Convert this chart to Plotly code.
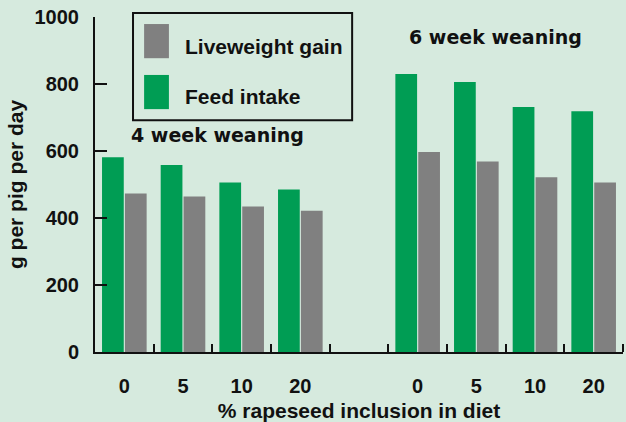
import plotly.graph_objects as go

# ---- data ----
inclusion_labels = ["0", "5", "10", "20"]
groups = ["4 week weaning", "6 week weaning"]
feed_4wk = [581, 558, 506, 485]
gain_4wk = [473, 464, 434, 422]
feed_6wk = [830, 806, 731, 719]
gain_6wk = [597, 569, 522, 506]
series_names = ["Liveweight gain", "Feed intake"]

# slot positions: group 1 in slots 0-3, empty slot 4, group 2 in slots 5-8
x1 = list(range(len(inclusion_labels)))
x2 = [len(inclusion_labels) + 1 + i for i in range(len(inclusion_labels))]
xs = x1 + x2
feed = feed_4wk + feed_6wk
gain = gain_4wk + gain_6wk
ticktext = inclusion_labels + inclusion_labels

BG = "rgb(214,234,222)"
GREEN = "#009d54"
GRAY = "#808080"
FONT = "Liberation Sans, Arial, sans-serif"

fig = go.Figure()
fig.add_trace(go.Bar(x=xs, y=feed, name=series_names[1], marker=dict(color=GREEN, line=dict(width=0)), showlegend=False))
fig.add_trace(go.Bar(x=xs, y=gain, name=series_names[0], marker=dict(color=GRAY, line=dict(width=0)), showlegend=False))

boundaries = [i + 0.5 for i in range(len(xs) + 1)]

fig.update_layout(
    width=626, height=422,
    paper_bgcolor=BG, plot_bgcolor=BG,
    margin=dict(l=95, r=3, t=17, b=70),
    barmode="group", bargap=0.22, bargroupgap=0.05,
    font=dict(family=FONT, size=20, color="#111111", weight="bold"),
    xaxis=dict(
        range=[-0.5, 8.5], tickmode="array", tickvals=xs, ticktext=ticktext,
        ticks="", showgrid=False, zeroline=False, showline=True, linecolor="#111111", linewidth=2,
        ticklabelstandoff=15,
        minor=dict(tickmode="array", tickvals=boundaries, ticks="inside", ticklen=8, tickwidth=2, tickcolor="#111111", showgrid=False),
        title=dict(text="% rapeseed inclusion in diet", standoff=7, font=dict(size=21)),
        automargin=False,
    ),
    yaxis=dict(
        range=[0, 1000], tickmode="array", tickvals=[0, 200, 400, 600, 800, 1000],
        ticks="inside", ticklen=12, tickwidth=2, tickcolor="#111111",
        showgrid=False, zeroline=False, showline=True, linecolor="#111111", linewidth=2,
        ticklabelstandoff=10,
        title=dict(text="g per pig per day", standoff=5, font=dict(size=21)),
        automargin=False,
    ),
)

# manual legend (big swatches)
fig.add_shape(type="rect", xref="paper", yref="paper", x0=0.072, x1=0.487, y0=0.692, y1=1.012,
              line=dict(color="#111111", width=2), fillcolor="rgba(0,0,0,0)")
fig.add_shape(type="rect", xref="paper", yref="paper", x0=0.093, x1=0.140, y0=0.877, y1=0.979,
              line=dict(width=0), fillcolor=GRAY)
fig.add_shape(type="rect", xref="paper", yref="paper", x0=0.093, x1=0.140, y0=0.725, y1=0.827,
              line=dict(width=0), fillcolor=GREEN)
fig.add_annotation(xref="paper", yref="paper", x=0.167, y=0.913, text=series_names[0],
                   showarrow=False, xanchor="left", yanchor="middle", font=dict(size=21))
fig.add_annotation(xref="paper", yref="paper", x=0.167, y=0.764, text=series_names[1],
                   showarrow=False, xanchor="left", yanchor="middle", font=dict(size=21))

# group labels
fig.add_annotation(x=1.58, y=647, text=groups[0], showarrow=False,
                   font=dict(family="DejaVu Sans, sans-serif", size=19, weight="bold"))
fig.add_annotation(x=6.33, y=940, text=groups[1], showarrow=False,
                   font=dict(family="DejaVu Sans, sans-serif", size=19, weight="bold"))

fig.write_html("out.html", config={"displayModeBar": False},
               post_script="document.body.style.margin='0';document.body.style.background='" + BG + "';")
